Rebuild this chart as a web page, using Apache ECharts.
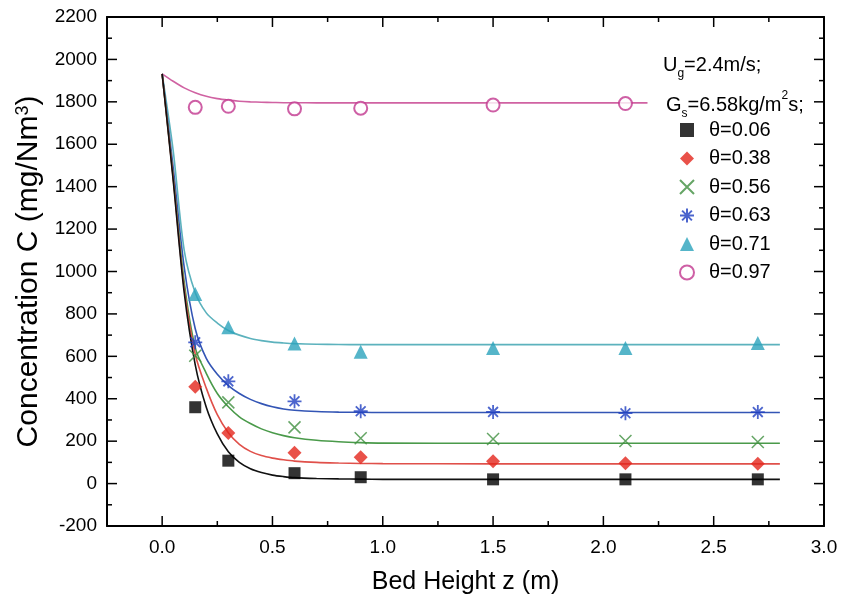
<!DOCTYPE html>
<html>
<head>
<meta charset="utf-8">
<script src="https://cdn.jsdelivr.net/npm/echarts@6/dist/echarts.min.js"></script>
<style>html,body{margin:0;padding:0;background:#fff}#c{width:843px;height:603px}</style>
</head>
<body>
<div id="c"></div>
<script>
// measured points
const xPoints = [0.15, 0.3, 0.6, 0.9, 1.5, 2.1, 2.7];
const theta006 = [360, 108, 49, 30, 20, 20, 20];
const theta038 = [457, 239, 145, 124, 105, 96, 93];
const theta056 = [603, 383, 265, 214, 210, 201, 196];
const theta063 = [666, 482, 388, 341, 338, 332, 337];
const theta071 = [894, 737, 661, 622, 639, 639, 663];
const xPoints097 = [0.15, 0.3, 0.6, 0.9, 1.5, 2.1];
const theta097 = [1774, 1779, 1767, 1770, 1785, 1792];

// fitted curves
const fitX = [0, 0.05, 0.1, 0.15, 0.2, 0.25, 0.3, 0.35, 0.4, 0.45, 0.5, 0.55, 0.6, 0.7, 0.8, 0.9, 1.0, 1.5, 2.0, 2.5, 2.8];
const fit006 = [1932, 1430, 900, 560, 360, 234, 150, 100, 70, 52, 40, 33, 28, 24, 22, 21, 20, 20, 20, 20, 20];
const fit038 = [1932, 1440, 920, 610, 450, 325, 240, 185, 152, 132, 120, 112, 106, 100, 97, 95, 94, 93, 93, 93, 93];
const fit056 = [1932, 1450, 950, 640, 520, 425, 362, 315, 283, 258, 240, 226, 216, 204, 197, 193, 191, 190, 190, 190, 190];
const fit063 = [1932, 1490, 1020, 730, 590, 515, 462, 425, 397, 377, 362, 352, 346, 340, 337, 336, 335, 335, 335, 335, 335];
const fit071 = [1932, 1570, 1100, 900, 805, 757, 722, 700, 684, 674, 667, 663, 660, 657, 656, 655, 655, 655, 655, 655, 655];
const fitX097 = [0, 0.05, 0.1, 0.15, 0.2, 0.25, 0.3, 0.35, 0.4, 0.45, 0.5, 0.55, 0.6, 0.7, 0.8, 0.9, 1.0, 1.5, 2.0, 2.2];
const fit097 = [1932, 1897, 1866, 1843, 1826, 1815, 1808, 1803, 1800, 1798, 1797, 1796, 1796, 1795, 1795, 1795, 1795, 1795, 1795, 1795];

// tick values
const xMajorTicks = [0, 0.5, 1.0, 1.5, 2.0, 2.5, 3.0];
const xMinorTicks = [0.25, 0.75, 1.25, 1.75, 2.25, 2.75];
const yMajorTicks = [-200, 0, 200, 400, 600, 800, 1000, 1200, 1400, 1600, 1800, 2000, 2200];
const yMinorTicks = [-100, 100, 300, 500, 700, 900, 1100, 1300, 1500, 1700, 1900, 2100];
const legendNames = ['θ=0.06', 'θ=0.38', 'θ=0.56', 'θ=0.63', 'θ=0.71', 'θ=0.97'];

const FONT = 'Liberation Sans, Arial, Helvetica, sans-serif';
const zip = (xs, ys) => xs.map((x, i) => [x, ys[i]]);

const XPATH = 'path://M0,0L10,10M10,0L0,10';
const STAR = 'path://M5,0L5,10M0,5L10,5M1.5,1.5L8.5,8.5M8.5,1.5L1.5,8.5';

const colors = {
  k: '#000000', r: '#e3261b', g: '#3f8f3f', b: '#1f3fc0', c: '#2aa3bb', m: '#c2378f'
};
const lineColors = {
  k: '#111111', r: '#e0504a', g: '#4a9a4a', b: '#3355b5', c: '#5cb2bd', m: '#d062a2'
};

function fitSeries(name, xs, ys, col) {
  return {
    type: 'line', name: name, data: zip(xs, ys), smooth: 0.3,
    symbol: 'none', lineStyle: { color: col, width: 1.6 }, z: 2, silent: true
  };
}
function ptSeries(name, xs, ys, symbol, size, style) {
  return {
    type: 'scatter', name: name, data: zip(xs, ys), symbol: symbol, symbolSize: size,
    itemStyle: style, z: 3
  };
}

// inward frame ticks, positioned through the axis scales (api.coord) on all four frame edges
function tickSeries(dim, values, len) {
  return {
    type: 'custom', silent: true, clip: false, z: 5,
    data: values.map(v => dim === 'x' ? [v, 0] : [0, v]),
    renderItem: function (params, api) {
      const r = params.coordSys;
      const p = api.coord([api.value(0), api.value(1)]);
      const st = { stroke: '#000', lineWidth: 1.5 };
      if (dim === 'x') {
        const x = p[0], yb = r.y + r.height, yt = r.y;
        return { type: 'group', children: [
          { type: 'line', shape: { x1: x, y1: yb, x2: x, y2: yb - len }, style: st },
          { type: 'line', shape: { x1: x, y1: yt, x2: x, y2: yt + len }, style: st }
        ] };
      }
      const y = p[1], xl = r.x, xr = r.x + r.width;
      return { type: 'group', children: [
        { type: 'line', shape: { x1: xl, y1: y, x2: xl + len, y2: y }, style: st },
        { type: 'line', shape: { x1: xr, y1: y, x2: xr - len, y2: y }, style: st }
      ] };
    }
  };
}

const option = {
  animation: false,
  backgroundColor: '#fff',
  grid: { left: 107, right: 19, top: 17, bottom: 77, containLabel: false },
  title: [
    {
      left: 658, top: 45,
      text: '{n|U}{sub|g}{n|=2.4m/s;}',
      textStyle: {
        fontWeight: 'normal',
        rich: {
          n: { fontFamily: FONT, fontSize: 20, fontWeight: 'normal', color: '#000', lineHeight: 30 },
          sub: { fontFamily: FONT, fontSize: 12, fontWeight: 'normal', color: '#000', lineHeight: 12, verticalAlign: 'bottom' }
        }
      }
    },
    {
      left: 661, top: 85,
      text: '{n|G}{sub|s}{n|=6.58kg/m}{sup|2}{n|s;}',
      textStyle: {
        fontWeight: 'normal',
        rich: {
          n: { fontFamily: FONT, fontSize: 20, fontWeight: 'normal', color: '#000', lineHeight: 30 },
          sub: { fontFamily: FONT, fontSize: 12, fontWeight: 'normal', color: '#000', lineHeight: 12, verticalAlign: 'bottom' },
          sup: { fontFamily: FONT, fontSize: 12, fontWeight: 'normal', color: '#000', lineHeight: 14, verticalAlign: 'top' }
        }
      }
    }
  ],
  legend: {
    data: legendNames, orient: 'vertical', left: 674, top: 115,
    itemWidth: 14, itemHeight: 14, itemGap: 8.5, selectedMode: false,
    textStyle: { fontFamily: FONT, fontSize: 20, color: '#000', padding: [0, 0, 0, 10] }
  },
  xAxis: [
    {
      type: 'value', min: -0.25, max: 3.0, position: 'bottom',
      axisLine: { show: true, onZero: false, lineStyle: { color: '#000', width: 2 } },
      axisTick: { show: false },
      axisLabel: { customValues: xMajorTicks, formatter: v => v.toFixed(1), fontFamily: FONT, fontSize: 19, color: '#000', margin: 12 },
      splitLine: { show: false },
      name: 'Bed Height z (m)', nameLocation: 'middle', nameGap: 44,
      nameTextStyle: { fontFamily: FONT, fontSize: 25, color: '#000' }
    },
    {
      type: 'value', min: -0.25, max: 3.0, position: 'top',
      axisLine: { show: true, onZero: false, lineStyle: { color: '#000', width: 2 } },
      axisTick: { show: false }, axisLabel: { show: false }, splitLine: { show: false }
    }
  ],
  yAxis: [
    {
      type: 'value', min: -200, max: 2200, interval: 200, position: 'left',
      axisLine: { show: true, onZero: false, lineStyle: { color: '#000', width: 2 } },
      axisTick: { show: false },
      axisLabel: { fontFamily: FONT, fontSize: 19, color: '#000', margin: 10, formatter: v => String(v) },
      splitLine: { show: false },
      name: 'Concentration C (mg/Nm{sup|3})', nameLocation: 'middle', nameGap: 62, nameRotate: 90,
      nameTextStyle: {
        fontFamily: FONT, fontSize: 30, color: '#000',
        rich: { sup: { fontFamily: FONT, fontSize: 18, color: '#000', verticalAlign: 'top', lineHeight: 16 } }
      }
    },
    {
      type: 'value', min: -200, max: 2200, interval: 200, position: 'right',
      axisLine: { show: true, onZero: false, lineStyle: { color: '#000', width: 2 } },
      axisTick: { show: false }, axisLabel: { show: false }, splitLine: { show: false }
    }
  ],
  series: [
    tickSeries('x', xMajorTicks, 10),
    tickSeries('x', xMinorTicks, 5),
    tickSeries('y', yMajorTicks, 10),
    tickSeries('y', yMinorTicks, 5),
    fitSeries('fit 0.97', fitX097, fit097, lineColors.m),
    fitSeries('fit 0.71', fitX, fit071, lineColors.c),
    fitSeries('fit 0.63', fitX, fit063, lineColors.b),
    fitSeries('fit 0.56', fitX, fit056, lineColors.g),
    fitSeries('fit 0.38', fitX, fit038, lineColors.r),
    fitSeries('fit 0.06', fitX, fit006, lineColors.k),
    ptSeries('θ=0.06', xPoints, theta006, 'rect', 12, { color: colors.k }),
    ptSeries('θ=0.38', xPoints, theta038, 'diamond', 14, { color: colors.r }),
    ptSeries('θ=0.56', xPoints, theta056, XPATH, 12, { color: 'rgba(0,0,0,0)', borderColor: colors.g, borderWidth: 1.5 }),
    ptSeries('θ=0.63', xPoints, theta063, STAR, 14, { color: 'rgba(0,0,0,0)', borderColor: colors.b, borderWidth: 1.8 }),
    ptSeries('θ=0.71', xPoints, theta071, 'triangle', 14, { color: colors.c }),
    ptSeries('θ=0.97', xPoints097, theta097, 'emptyCircle', 13, { color: colors.m, borderColor: colors.m, borderWidth: 1.8 })
  ]
};

const chart = echarts.init(document.getElementById('c'), null, { renderer: 'canvas' });
chart.setOption(option);
</script>
</body>
</html>
